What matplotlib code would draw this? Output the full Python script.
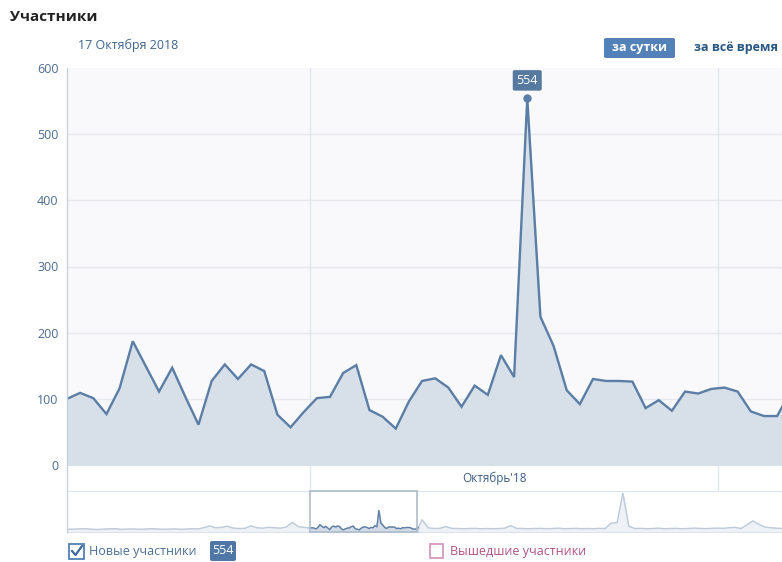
import matplotlib.pyplot as plt
import numpy as np
from matplotlib.patches import FancyBboxPatch, Rectangle
from matplotlib.lines import Line2D

plt.rcParams['font.family'] = ['Open Sans', 'DejaVu Sans']

W, H = 782, 562

# daily new members, 12 Sep 2018 .. 6 Nov 2018 (index 35 = 17 Oct)
new_members = [100, 109, 101, 77, 116, 187, 149, 111, 147, 103, 61, 127, 152, 130,
               152, 142, 76, 57, 80, 101, 103, 139, 151, 83, 73, 55, 96, 127, 131,
               117, 88, 120, 106, 166, 133, 554, 224, 180, 113, 92, 130, 127, 127,
               126, 86, 98, 82, 111, 108, 115, 117, 111, 81, 74, 74, 110]
peak_idx = 35
month_edges = [18.5, 49.5]          # 1 Oct and 1 Nov
month_label = "Октябрь'18"
yticks = [0, 100, 200, 300, 400, 500, 600]

# navigator (overview) series, every 3 days, outside the selected window
nav_before_days = list(range(-123, 0, 3))
nav_before = [70, 75, 80, 85, 70, 65, 75, 80, 85, 70, 75, 80, 70, 75, 85, 80, 70, 75,
              80, 70, 75, 85, 80, 110, 160, 110, 120, 150, 100, 90, 95, 160, 110, 100,
              120, 110, 100, 130, 250, 140, 120]
nav_after_days = list(range(57, 243, 3))
nav_after = [315, 110, 90, 95, 140, 95, 90, 85, 90, 95, 85, 90, 85, 90, 100, 165, 95,
             90, 85, 90, 95, 85, 90, 100, 85, 90, 95, 85, 90, 85, 95, 90, 230, 240,
             1000, 150, 90, 95, 85, 90, 100, 85, 90, 95, 85, 90, 100, 95, 90, 95, 100,
             95, 110, 120, 90, 180, 290, 200, 130, 110, 100, 90]


def fx(px):
    return px / W


def fy(py):
    return 1 - py / H


LINE = '#5a7ea5'
FILL = '#d7dfe9'
BLUE = '#5181b8'
TXT = '#4b6b91'

fig = plt.figure(figsize=(W / 100, H / 100), dpi=100)

# main chart
ax = fig.add_axes([fx(67), fy(465), fx(782 - 67), 397 / H])
ax.set_facecolor('#f9f9fb')
x = np.arange(len(new_members))
ax.fill_between(x, 0, new_members, color=FILL, zorder=2)
ax.plot(x, new_members, color=LINE, lw=1.7, zorder=3, solid_joinstyle='miter')
ax.plot(peak_idx, new_members[peak_idx], 'o', color=LINE, ms=5, zorder=4)
ax.annotate(str(new_members[peak_idx]), (peak_idx, new_members[peak_idx]),
            xytext=(0, 13), textcoords='offset points', ha='center', va='center',
            color='white', fontsize=9,
            bbox=dict(boxstyle='round,pad=0.3,rounding_size=0.15', fc='#55799f', ec='none'))
ax.set_xlim(0, (782 - 67) / 13.15)
ax.set_ylim(0, 600)
ax.set_yticks(yticks)
ax.set_yticklabels([str(v) for v in yticks])
ax.tick_params(axis='y', length=0, pad=6, labelcolor=TXT, labelsize=9)
ax.set_xticks([])
for v in yticks[1:-1]:
    ax.axhline(v, color='#e6e9ee', lw=1, zorder=1)
for m in month_edges:
    ax.axvline(m, ymin=-25 / 397, ymax=1, color='#e1e6ec', lw=1, zorder=1, clip_on=False)
for s in ax.spines.values():
    s.set_visible(False)
ax.text(32.5, -20, month_label, ha='center', va='center', color='#3c5e85', fontsize=8.5)

# left axis line
fig.add_artist(Line2D([fx(67), fx(67)], [fy(68), fy(532)], color='#c8d2de', lw=1))

# navigator
nav = fig.add_axes([fx(67), fy(532), fx(782 - 67), 41 / H])
px_per_day = 107 / ((782 - 67) / 13.15)
nav.set_xlim((67 - 310) / px_per_day, (782 - 310) / px_per_day)
nav.set_ylim(0, 1060)
all_days = nav_before_days + list(x) + nav_after_days
all_vals = nav_before + new_members + nav_after
nav.fill_between(all_days, 0, all_vals, color='#eef2f6', zorder=1)
nav.plot(all_days, all_vals, color='#bccad9', lw=1, zorder=2)
nav.fill_between(x, 0, new_members, color='#d3dbe6', zorder=3)
nav.plot(x, new_members, color='#5d7fa5', lw=1, zorder=4)
nav.add_patch(Rectangle((0, 0), (417 - 310) / px_per_day, 1060, fill=False,
                        ec='#aebccb', lw=1.2, zorder=5, clip_on=False))
nav.set_xticks([])
nav.set_yticks([])
for s in nav.spines.values():
    s.set_color('#dce3ea')
nav.spines['left'].set_visible(False)
nav.spines['right'].set_visible(False)

# header texts
fig.text(fx(10), fy(17), 'Участники', fontsize=11, fontweight='bold', color='#222222',
         ha='left', va='center')
fig.text(fx(78), fy(45), '17 Октября 2018', fontsize=9, color='#3e6390', ha='left', va='center')
fig.add_artist(FancyBboxPatch((fx(604), fy(58)), fx(71), 20 / H,
                              boxstyle='round,pad=0,rounding_size=0.003', fc=BLUE, ec='none'))
fig.text(fx(639.5), fy(48), 'за сутки', fontsize=9, fontweight='bold', color='white',
         ha='center', va='center')
fig.text(fx(694), fy(48), 'за всё время', fontsize=9, fontweight='bold', color='#2a5885',
         ha='left', va='center')

# legend
fig.add_artist(Rectangle((fx(69), fy(559)), fx(15), 15 / H, fc='white', ec=BLUE, lw=1.3))
fig.add_artist(Line2D([fx(72), fx(75.5), fx(82)], [fy(551), fy(555), fy(546)],
                      color='#3f6a9c', lw=1.6))
fig.text(fx(89), fy(551), 'Новые участники', fontsize=9, color='#4b6e94', ha='left', va='center')
fig.add_artist(FancyBboxPatch((fx(210), fy(561)), fx(26), 20 / H,
                              boxstyle='round,pad=0,rounding_size=0.003', fc='#4f77a6', ec='none'))
fig.text(fx(223), fy(551), str(new_members[peak_idx]), fontsize=9, color='white',
         ha='center', va='center')
fig.add_artist(Rectangle((fx(430), fy(558)), fx(13), 14 / H, fc='white', ec='#d59ac0', lw=1.3))
fig.text(fx(450), fy(551), 'Вышедшие участники', fontsize=9, color='#b0508a',
         ha='left', va='center')

fig.savefig('out.png', dpi=100)
